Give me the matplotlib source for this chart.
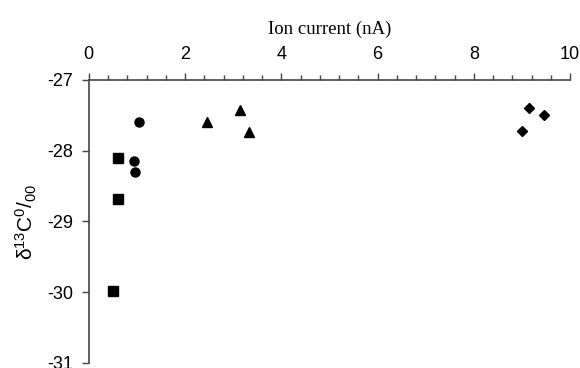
import matplotlib
matplotlib.use('Agg')
import matplotlib.pyplot as plt
from matplotlib.ticker import MultipleLocator

plt.rcParams['mathtext.fontset'] = 'custom'
plt.rcParams['mathtext.rm'] = 'Liberation Sans'
plt.rcParams['mathtext.it'] = 'Liberation Sans'
plt.rcParams['axes.unicode_minus'] = False

# ion current (nA) and delta 13C (per mil), four groups
sq_x = [0.61, 0.61, 0.50]
sq_y = [-28.10, -28.68, -29.98]
ci_x = [1.05, 0.94, 0.96]
ci_y = [-27.60, -28.15, -28.30]
tr_x = [2.46, 3.14, 3.33]
tr_y = [-27.60, -27.42, -27.73]
di_x = [9.15, 9.46, 9.00]
di_y = [-27.40, -27.50, -27.72]

fig = plt.figure(figsize=(5.8, 3.68), dpi=100)
ax = fig.add_axes([0.153, 0.014, 0.830, 0.769])

ax.plot(sq_x, sq_y, 's', color='black', markersize=6.5, linestyle='none')
ax.plot(ci_x, ci_y, 'o', color='black', markersize=6.5, linestyle='none')
ax.plot(tr_x, tr_y, '^', color='black', markersize=6.5, linestyle='none')
ax.plot(di_x, di_y, 'D', color='black', markersize=5, linestyle='none')

ax.set_xlim(0, 10)
ax.set_ylim(-31, -27)
ax.xaxis.tick_top()
ax.xaxis.set_label_position('top')
ax.xaxis.set_major_locator(MultipleLocator(2))
ax.xaxis.set_minor_locator(MultipleLocator(0.4))
ax.yaxis.set_major_locator(MultipleLocator(1))

for s in ['right', 'bottom']:
    ax.spines[s].set_visible(False)
for s in ['top', 'left']:
    ax.spines[s].set_color('#444444')
    ax.spines[s].set_linewidth(1.2)

ax.tick_params(axis='both', which='major', direction='out', length=5, width=1,
               color='#444444', labelsize=13)
ax.tick_params(axis='x', which='major', pad=7)
ax.tick_params(axis='y', which='major', pad=6)
ax.tick_params(axis='x', which='minor', direction='out', length=3.5, width=1,
               color='#444444')
for lab in ax.get_xticklabels() + ax.get_yticklabels():
    lab.set_family('Liberation Sans')

ax.set_xlabel('Ion current (nA)', family='Liberation Serif', fontsize=13.5, labelpad=9)
ax.set_ylabel('δ$^{13}$C$^{0}/_{00}$', family='Liberation Sans', fontsize=15, labelpad=6)

fig.savefig('out.png', dpi=100)
